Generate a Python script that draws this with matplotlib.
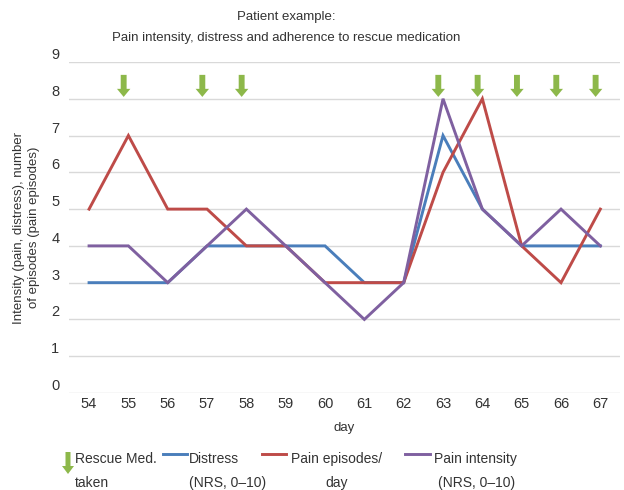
import matplotlib
matplotlib.use("Agg")
import matplotlib.pyplot as plt
import numpy as np

plt.rcParams['font.family'] = ['Liberation Sans', 'DejaVu Sans']

days = [54, 55, 56, 57, 58, 59, 60, 61, 62, 63, 64, 65, 66, 67]
distress = [3, 3, 3, 4, 4, 4, 4, 3, 3, 7, 5, 4, 4, 4]
pain_episodes = [5, 7, 5, 5, 4, 4, 3, 3, 3, 6, 8, 4, 3, 5]
pain_intensity = [4, 4, 3, 4, 5, 4, 3, 2, 3, 8, 5, 4, 5, 4]
rescue_days = [55, 57, 58, 63, 64, 65, 66, 67]

blue = '#4A7EBB'
red = '#BE4B48'
purple = '#7F60A0'
green = '#8DB84A'
txt = '#333333'

fig = plt.figure(figsize=(6.24, 4.9), dpi=100)
ax = fig.add_axes([69/624, 1-393/490, (620-69)/624, (393-62)/490])

ax.plot(days, distress, color=blue, lw=2.1, solid_joinstyle='miter')
ax.plot(days, pain_episodes, color=red, lw=2.1, solid_joinstyle='miter')
ax.plot(days, pain_intensity, color=purple, lw=2.1, solid_joinstyle='miter')

# rescue medication arrows
for d in rescue_days:
    ax.arrow(d - 0.12, 8.65, 0, -0.38, width=0.15, head_width=0.34,
             head_length=0.22, length_includes_head=False, color=green, lw=0)

ax.set_xlim(53.49, 67.5)
ax.set_ylim(0, 9)
ax.set_yticks(range(0, 10))
ax.set_xticks(days)
ax.grid(axis='y', color='#D9D9D9', lw=1)
ax.set_axisbelow(True)
for s in ax.spines.values():
    s.set_visible(False)
ax.tick_params(length=0, labelsize=10.5, labelcolor=txt)
ax.tick_params(axis='y', pad=7)
ax.tick_params(axis='x', pad=3)
for lab in ax.get_yticklabels():
    lab.set_verticalalignment('bottom')

ax.set_xlabel('day', fontsize=9.5, color=txt, labelpad=8)
ax.set_ylabel('Intensity (pain, distress), number\nof episodes (pain episodes)',
              fontsize=9.5, color=txt, labelpad=8, linespacing=1.3)

fig.text(286/624, 1-17/490, 'Patient example:', ha='center', va='center',
         fontsize=9.5, color=txt)
fig.text(286/624, 1-38/490, 'Pain intensity, distress and adherence to rescue medication',
         ha='center', va='center', fontsize=9.5, color=txt)

# custom legend in pixel coordinates
lg = fig.add_axes([0, 0, 1, 1], zorder=-1)
lg.set_xlim(0, 624)
lg.set_ylim(490, 0)
lg.axis('off')
lg.arrow(68, 452, 0, 14, width=5, head_width=12, head_length=8, color=green, lw=0)
lg.text(75, 459, 'Rescue Med.', fontsize=10, color=txt, va='center')
lg.text(75, 483, 'taken', fontsize=10, color=txt, va='center')
lg.plot([163, 187], [454, 454], color=blue, lw=2.1)
lg.text(189, 459, 'Distress', fontsize=10, color=txt, va='center')
lg.text(189, 483, '(NRS, 0\u201310)', fontsize=10, color=txt, va='center')
lg.plot([262, 286], [454, 454], color=red, lw=2.1)
lg.text(337, 459, 'Pain episodes/', fontsize=10, color=txt, va='center', ha='center')
lg.text(337, 483, 'day', fontsize=10, color=txt, va='center', ha='center')
lg.plot([405, 430], [454, 454], color=purple, lw=2.1)
lg.text(475, 459, 'Pain intensity', fontsize=10, color=txt, va='center', ha='center')
lg.text(477, 483, '(NRS, 0\u201310)', fontsize=10, color=txt, va='center', ha='center')

fig.savefig('out.png', dpi=100)
